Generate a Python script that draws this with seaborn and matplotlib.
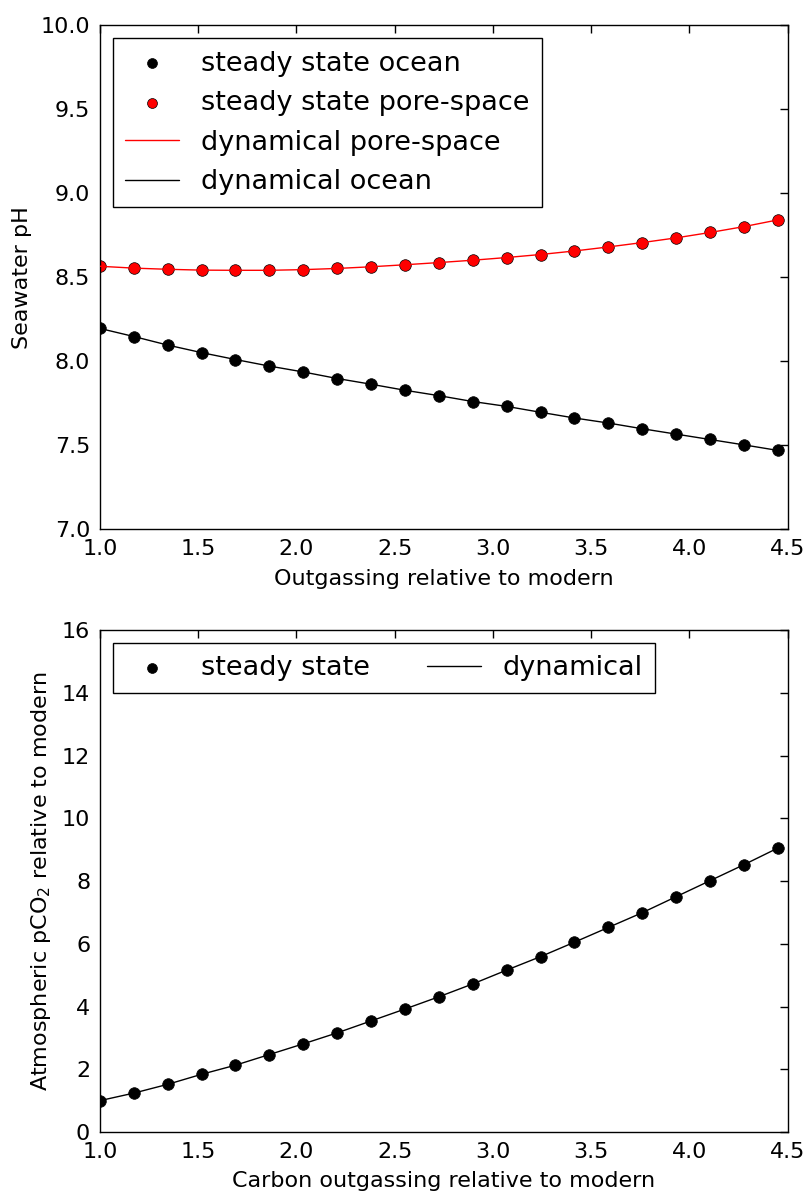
import numpy as np
import pandas as pd
import matplotlib
matplotlib.use("Agg")
import matplotlib.pyplot as plt
import seaborn as sns

# Outgassing relative to modern (x positions of the model runs)
outgassing = [1.0, 1.1725, 1.345, 1.5175, 1.69, 1.8625, 2.035, 2.2075, 2.38, 2.5525,
              2.725, 2.8975, 3.07, 3.2425, 3.415, 3.5875, 3.76, 3.9325, 4.105, 4.2775, 4.45]

# Seawater pH, steady state / dynamical ocean
ph_ocean = [8.196, 8.148, 8.097, 8.052, 8.011, 7.972, 7.937, 7.898, 7.864, 7.828,
            7.796, 7.761, 7.732, 7.697, 7.663, 7.633, 7.599, 7.567, 7.535, 7.503, 7.470]

# Seawater pH, steady state / dynamical pore-space
ph_pore = [8.566, 8.555, 8.548, 8.543, 8.542, 8.542, 8.546, 8.553, 8.563, 8.575,
           8.588, 8.602, 8.618, 8.636, 8.657, 8.681, 8.707, 8.735, 8.767, 8.802, 8.842]

# Atmospheric pCO2 relative to modern
pco2 = [1.00, 1.24, 1.52, 1.84, 2.13, 2.47, 2.81, 3.16, 3.54, 3.92,
        4.31, 4.72, 5.16, 5.59, 6.05, 6.52, 6.99, 7.50, 8.01, 8.52, 9.05]

df = pd.DataFrame({"x": outgassing, "ocean": ph_ocean, "pore": ph_pore, "pco2": pco2})

sns.set_style("white")
plt.rcParams["font.family"] = ["DejaVu Sans"]
plt.rcParams["text.color"] = "black"
plt.rcParams["axes.labelcolor"] = "black"
plt.rcParams["xtick.color"] = "black"
plt.rcParams["ytick.color"] = "black"
plt.rcParams["xtick.direction"] = "in"
plt.rcParams["ytick.direction"] = "in"

fig = plt.figure(figsize=(8.12, 11.95), dpi=100)
ax1 = fig.add_axes([0.123, 0.557, 0.847, 0.4218])
ax2 = fig.add_axes([0.123, 0.0527, 0.847, 0.4201])

TICK_FS = 16
LABEL_FS = 16
LEG_FS = 19.5

# ---- top panel ----
sns.scatterplot(data=df, x="x", y="ocean", ax=ax1, color="black", s=70,
                edgecolor="black", linewidth=0.5, label="steady state ocean", zorder=2)
sns.scatterplot(data=df, x="x", y="pore", ax=ax1, color="red", s=70,
                edgecolor="black", linewidth=0.5, label="steady state pore-space", zorder=2)
sns.lineplot(data=df, x="x", y="pore", ax=ax1, color="red", lw=1.0,
             label="dynamical pore-space", zorder=3)
sns.lineplot(data=df, x="x", y="ocean", ax=ax1, color="black", lw=1.0,
             label="dynamical ocean", zorder=3)
ax1.set_xlim(1.0, 4.5)
ax1.set_ylim(7.0, 10.0)
ax1.set_xticks([1.0, 1.5, 2.0, 2.5, 3.0, 3.5, 4.0, 4.5])
ax1.set_yticks([7.0, 7.5, 8.0, 8.5, 9.0, 9.5, 10.0])
ax1.xaxis.set_major_formatter(matplotlib.ticker.FormatStrFormatter("%.1f"))
ax1.yaxis.set_major_formatter(matplotlib.ticker.FormatStrFormatter("%.1f"))
ax1.set_xlabel("Outgassing relative to modern", fontsize=LABEL_FS, labelpad=7)
ax1.set_ylabel("Seawater pH", fontsize=LABEL_FS, labelpad=6)
leg1 = ax1.legend(loc="upper left", fontsize=LEG_FS, frameon=True, fancybox=False,
                  edgecolor="black", framealpha=1, numpoints=1, handlelength=2.0,
                  borderaxespad=0.48, labelspacing=0.5, handletextpad=0.8,
                  borderpad=0.45, markerscale=0.85)
leg1.get_frame().set_linewidth(1.0)

# ---- bottom panel ----
sns.scatterplot(data=df, x="x", y="pco2", ax=ax2, color="black", s=70,
                edgecolor="black", linewidth=0.5, label="steady state", zorder=2)
sns.lineplot(data=df, x="x", y="pco2", ax=ax2, color="black", lw=1.0,
             label="dynamical", zorder=3)
ax2.set_xlim(1.0, 4.5)
ax2.set_ylim(0, 16)
ax2.set_xticks([1.0, 1.5, 2.0, 2.5, 3.0, 3.5, 4.0, 4.5])
ax2.set_yticks([0, 2, 4, 6, 8, 10, 12, 14, 16])
ax2.xaxis.set_major_formatter(matplotlib.ticker.FormatStrFormatter("%.1f"))
ax2.set_xlabel("Carbon outgassing relative to modern", fontsize=LABEL_FS, labelpad=7)
ax2.set_ylabel("Atmospheric pCO$_2$ relative to modern", fontsize=LABEL_FS, labelpad=6)
leg2 = ax2.legend(loc="upper left", ncol=2, fontsize=LEG_FS, frameon=True, fancybox=False,
                  edgecolor="black", framealpha=1, numpoints=1, handlelength=2.0,
                  borderaxespad=0.48, handletextpad=0.8, columnspacing=2.1,
                  borderpad=0.45, markerscale=0.85)
leg2.get_frame().set_linewidth(1.0)

for ax in (ax1, ax2):
    for sp in ax.spines.values():
        sp.set_visible(True)
        sp.set_color("black")
        sp.set_linewidth(1.0)
    ax.tick_params(which="both", direction="in", top=True, right=True,
                   length=6, width=1, labelsize=TICK_FS, color="black", pad=7)

fig.savefig("out.png", dpi=100, facecolor="white")
